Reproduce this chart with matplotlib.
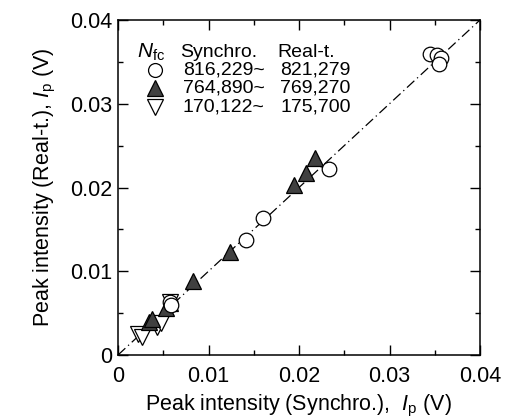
import matplotlib
matplotlib.use("Agg")
import matplotlib.pyplot as plt
from matplotlib.ticker import MultipleLocator, FuncFormatter

plt.rcParams['font.family'] = ['Liberation Sans', 'DejaVu Sans']
plt.rcParams['mathtext.fontset'] = 'custom'
plt.rcParams['mathtext.rm'] = 'Liberation Sans'
plt.rcParams['mathtext.it'] = 'Liberation Sans:italic'

# Data
circ_x = [0.0345, 0.0352, 0.0357, 0.0355, 0.0233, 0.0160, 0.0141, 0.0057, 0.0059]
circ_y = [0.0359, 0.0358, 0.0355, 0.0348, 0.0222, 0.0163, 0.0137, 0.0063, 0.0060]
tri_x = [0.0218, 0.0208, 0.0195, 0.0124, 0.0083, 0.0057, 0.0053, 0.0034, 0.0038]
tri_y = [0.0235, 0.0217, 0.0203, 0.0123, 0.0088, 0.0062, 0.0056, 0.0040, 0.0043]
dtri_x = [0.0022, 0.0027, 0.0043, 0.0048, 0.0058]
dtri_y = [0.0025, 0.0022, 0.0033, 0.0038, 0.0063]
ref_line = [0.0, 0.04]
legend_synchro = ["816,229~", "764,890~", "170,122~"]
legend_realt = ["821,279", "769,270", "175,700"]

fig = plt.figure(figsize=(5.16, 4.19), dpi=100)
ax = fig.add_axes([118/516, 1-355/419, (480-118)/516, (355-20)/419])

ax.plot(ref_line, ref_line, color='black', lw=0.9, ls=(0, (8, 3, 1, 3)), zorder=1)
ax.plot(dtri_x, dtri_y, 'v', ms=12, mfc='white', mec='black', mew=0.9, ls='none', zorder=2)
ax.plot(tri_x, tri_y, '^', ms=12, mfc='#404040', mec='black', mew=0.9, ls='none', zorder=3)
ax.plot(circ_x, circ_y, 'o', ms=10.5, mfc='white', mec='black', mew=0.9, ls='none', zorder=4)

ax.set_xlim(0, 0.04)
ax.set_ylim(0, 0.04)
fmt = FuncFormatter(lambda v, p: '0' if abs(v) < 1e-12 else f'{v:.2f}')
for a in (ax.xaxis, ax.yaxis):
    a.set_major_locator(MultipleLocator(0.01))
    a.set_minor_locator(MultipleLocator(0.005))
    a.set_major_formatter(fmt)
ax.tick_params(which='both', direction='in', top=True, right=True, labelsize=15.5)
ax.tick_params(which='major', length=7, width=1)
ax.tick_params(which='minor', length=3.5, width=1)
ax.tick_params(axis='x', pad=8)
ax.tick_params(axis='y', pad=4)
for s in ax.spines.values():
    s.set_linewidth(1.1)

ax.set_xlabel(r"Peak intensity (Synchro.),  $\mathit{I}_{\rm p}$ (V)", fontsize=15.5, labelpad=4)
ax.set_ylabel(r"Peak intensity (Real-t.), $\mathit{I}_{\rm p}$ (V)", fontsize=15.5, labelpad=9)

# custom legend
def px2ax(px, py):
    return ((px - 118) / (480 - 118), (355 - py) / (355 - 20))

fs = 14
x0, y0 = px2ax(137, 52)
ax.text(x0, y0, r"$\mathit{N}_{\rm fc}$", transform=ax.transAxes, fontsize=fs + 1, va='center', ha='left')
x1, _ = px2ax(180, 52)
ax.text(x1, y0, "Synchro.", transform=ax.transAxes, fontsize=fs, va='center', ha='left')
x2, _ = px2ax(277, 52)
ax.text(x2, y0, "Real-t.", transform=ax.transAxes, fontsize=fs, va='center', ha='left')

rows_y = [70, 88, 107]
markers = [('o', 'white', 10), ('^', '#404040', 11), ('v', 'white', 11)]
for ry, (m, fc, ms), s1, s2 in zip(rows_y, markers, legend_synchro, legend_realt):
    mx, my = px2ax(155, ry)
    ax.plot([mx], [my], m, ms=ms, mfc=fc, mec='black', mew=0.9, transform=ax.transAxes, clip_on=False)
    tx1, _ = px2ax(183, ry)
    ax.text(tx1, my, s1, transform=ax.transAxes, fontsize=fs, va='center', ha='left')
    tx2, _ = px2ax(280, ry)
    ax.text(tx2, my, s2, transform=ax.transAxes, fontsize=fs, va='center', ha='left')

fig.savefig("out.png", dpi=100)
